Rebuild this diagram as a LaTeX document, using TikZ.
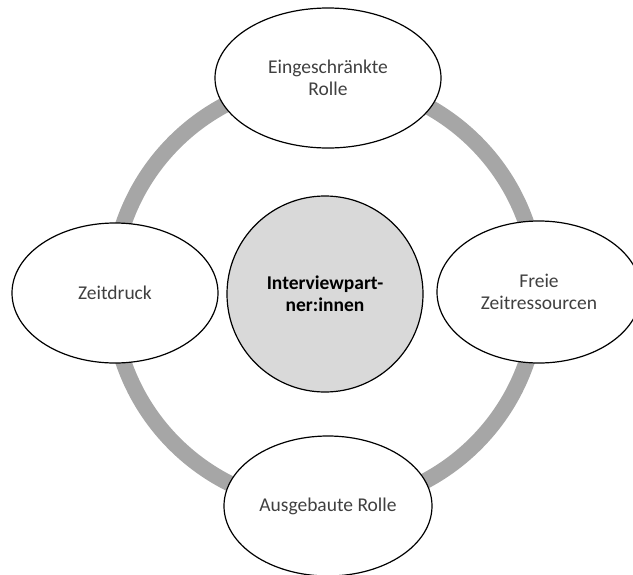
\documentclass[tikz,border=0pt]{standalone}
\usepackage{fontspec}
\setmainfont{Carlito}
\usetikzlibrary{shapes.geometric, positioning}
\definecolor{hubcolor}{RGB}{217,217,217}
\definecolor{ringcolor}{RGB}{166,166,166}
\definecolor{textcolor}{RGB}{64,64,64}

\begin{document}
\begin{tikzpicture}[
    x=1pt, y=-1pt,
    factor/.style={ellipse, draw, line width=1.2pt, fill=white, text=textcolor, align=center, inner sep=0pt},
    hub/.style={circle, draw, line width=1.2pt, fill=hubcolor, minimum size=196pt, align=center, font=\fontsize{19.5}{22}\selectfont\bfseries},
    ring/.style={draw=ringcolor, line width=16pt},
    font=\fontsize{19.5}{22}\selectfont
]
    \useasboundingbox (0,0) rectangle (633,574);

    % Ring
    \coordinate (mid) at (325,293);
    \draw[ring] (mid) circle (213);

    % Centre
    \node[hub] (partner) at (325,294) {Interviewpart-\\ner:innen};

    % Factors
    \node[factor, minimum width=226pt, minimum height=140pt] (limited) at (328,78) {Eingeschränkte\\Rolle};
    \node[factor, minimum width=206pt, minimum height=140pt] (pressure) at (115,293) {Zeitdruck};
    \node[factor, minimum width=204pt, minimum height=142pt] (free) at (539,292) {Freie\\Zeitressourcen};
    \node[factor, minimum width=208pt, minimum height=140pt] (extended) at (328,506) {Ausgebaute Rolle};

\end{tikzpicture}
\end{document}
